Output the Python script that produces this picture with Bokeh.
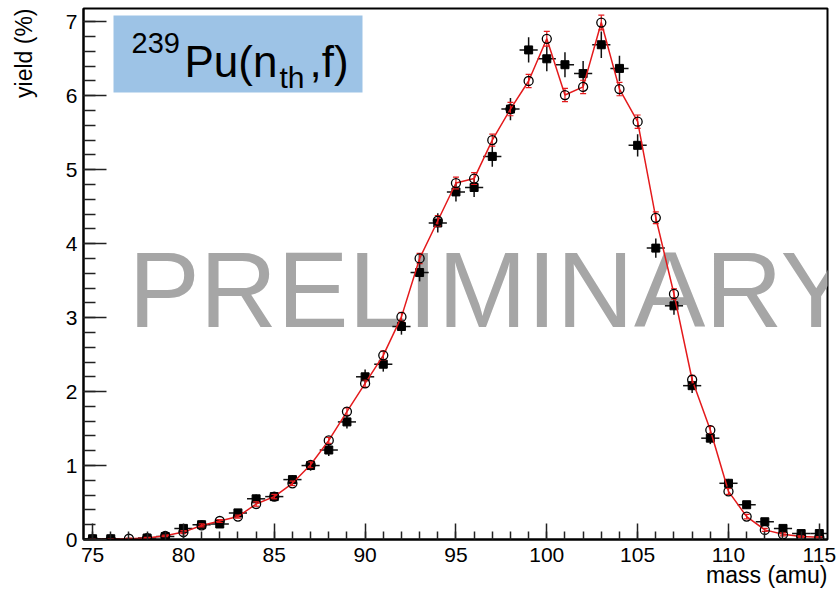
from bokeh.plotting import figure
from bokeh.models import Label, BoxAnnotation, SingleIntervalTicker
from bokeh.embed import file_html
from bokeh.resources import INLINE

# ---------------- data ----------------
mass_calc = list(range(75, 116))
yield_calc = [0.00, 0.00, 0.01, 0.02, 0.05, 0.10, 0.19, 0.25, 0.31, 0.48,
              0.58, 0.76, 1.01, 1.34, 1.73, 2.11, 2.49, 3.01, 3.80, 4.31,
              4.82, 4.88, 5.40, 5.82, 6.20, 6.77, 6.01, 6.12, 6.99, 6.09,
              5.65, 4.35, 3.32, 2.16, 1.48, 0.65, 0.31, 0.13, 0.07, 0.04, 0.03]
err_calc = [0.01, 0.01, 0.01, 0.01, 0.01, 0.02, 0.02, 0.02, 0.02, 0.03,
            0.03, 0.03, 0.04, 0.04, 0.05, 0.05, 0.06, 0.06, 0.07, 0.07,
            0.08, 0.08, 0.08, 0.09, 0.09, 0.10, 0.09, 0.09, 0.10, 0.09,
            0.09, 0.08, 0.07, 0.06, 0.05, 0.04, 0.03, 0.02, 0.02, 0.01, 0.01]

mass_meas = [75, 76, 78, 79, 80, 81, 82, 83, 84, 85, 86, 87, 88, 89, 90, 91,
             92, 93, 94, 95, 96, 97, 98, 99, 100, 101, 102, 103, 104, 105,
             106, 107, 108, 109, 110, 111, 112, 113, 114, 115]
yield_meas = [0.01, 0.01, 0.02, 0.04, 0.15, 0.20, 0.21, 0.36, 0.55, 0.58,
              0.81, 1.00, 1.21, 1.59, 2.20, 2.37, 2.88, 3.61, 4.28, 4.70,
              4.76, 5.18, 5.82, 6.62, 6.50, 6.42, 6.30, 6.69, 6.37, 5.33,
              3.94, 3.16, 2.08, 1.37, 0.76, 0.47, 0.24, 0.15, 0.08, 0.08]
err_meas = [0.02, 0.02, 0.02, 0.03, 0.05, 0.04, 0.04, 0.05, 0.06, 0.06,
            0.06, 0.07, 0.08, 0.09, 0.10, 0.10, 0.11, 0.12, 0.13, 0.13,
            0.13, 0.14, 0.15, 0.17, 0.17, 0.17, 0.17, 0.18, 0.17, 0.15,
            0.13, 0.12, 0.10, 0.08, 0.06, 0.05, 0.04, 0.03, 0.03, 0.03]
bin_half = 0.5

x_ticks_major = 5
y_ticks_major = 1

x_title = "mass (amu)"
y_title = "yield (%)"

# ---------------- figure ----------------
p = figure(width=840, height=590, x_range=(74.5, 115.45), y_range=(0, 7.18),
           output_backend="svg", toolbar_location=None,
           min_border_left=83, min_border_right=13, min_border_top=8,
           min_border_bottom=51)
p.background_fill_color = "white"
p.border_fill_color = "white"
p.outline_line_color = "black"
p.outline_line_width = 2
p.xgrid.visible = False
p.ygrid.visible = False

p.xaxis.ticker = SingleIntervalTicker(interval=x_ticks_major, num_minor_ticks=5)
p.yaxis.ticker = SingleIntervalTicker(interval=y_ticks_major, num_minor_ticks=5)
for ax in (p.xaxis[0], p.yaxis[0]):
    ax.axis_line_width = 2
    ax.axis_line_color = "black"
    ax.major_tick_out = 0
    ax.minor_tick_out = 0
    ax.major_tick_line_width = 1.5
    ax.minor_tick_line_width = 1.5
    ax.major_tick_line_color = "#222222"
    ax.minor_tick_line_color = "#222222"
    ax.major_label_text_font = "Liberation Sans"
    ax.major_label_text_font_size = "21px"
    ax.major_label_text_color = "black"
    ax.axis_label_text_font = "Liberation Sans"
    ax.axis_label_text_font_size = "23px"
    ax.axis_label_text_font_style = "normal"
    ax.axis_label_text_color = "black"
    ax.axis_label_align = "end"
p.xaxis.major_tick_in = 16
p.xaxis.minor_tick_in = 8
p.yaxis.major_tick_in = 23
p.yaxis.minor_tick_in = 12
p.xaxis.major_label_standoff = 8
p.yaxis.major_label_standoff = 6
# the end-aligned title is centred on the axis end; trailing no-break spaces
# shift the visible words so that they finish at the end of the axis (ROOT style)
p.xaxis.axis_label = x_title + "\u00a0" * 19
p.yaxis.axis_label = y_title + "\u00a0" * 14
p.xaxis.axis_label_standoff = -3
p.yaxis.axis_label_standoff = 26

# screen-unit labels below are placed relative to the plot frame (left=83, bottom=539)
# watermark (beneath the data)
p.add_layout(Label(x=45, y=250, x_units="screen", y_units="screen",
                   text="PRELIMINARY", text_font="Liberation Sans",
                   text_font_size="107px", text_color="#a6a6a6",
                   text_baseline="alphabetic", level="underlay"))

# measured: squares with cross error bars
xm0 = [m - bin_half for m in mass_meas]
xm1 = [m + bin_half for m in mass_meas]
ylo = [y - e for y, e in zip(yield_meas, err_meas)]
yhi = [y + e for y, e in zip(yield_meas, err_meas)]
p.segment(x0=xm0, y0=yield_meas, x1=xm1, y1=yield_meas, line_color="#111111", line_width=1.5)
p.segment(x0=mass_meas, y0=ylo, x1=mass_meas, y1=yhi, line_color="#111111", line_width=1.5)
p.scatter(mass_meas, yield_meas, marker="square", size=8, fill_color="black", line_color="black")

# calculation: red line, red error bars, open circles
clo = [y - e for y, e in zip(yield_calc, err_calc)]
chi = [y + e for y, e in zip(yield_calc, err_calc)]
p.line(mass_calc, yield_calc, line_color="#e41a1c", line_width=1.5)
p.segment(x0=mass_calc, y0=clo, x1=mass_calc, y1=chi, line_color="#e41a1c", line_width=1.2)
p.scatter(mass_calc, clo, marker="dash", size=6, line_color="#e41a1c", line_width=1.2)
p.scatter(mass_calc, chi, marker="dash", size=6, line_color="#e41a1c", line_width=1.2)
p.scatter(mass_calc, yield_calc, marker="circle", size=9, fill_color=None,
          line_color="black", line_width=1.3)

# reaction label box
p.add_layout(BoxAnnotation(left=30, right=279, top=524, bottom=447,
                           left_units="screen", right_units="screen",
                           top_units="screen", bottom_units="screen",
                           fill_color="#9dc3e6", fill_alpha=1.0, line_color=None,
                           level="overlay"))
label_parts = [("239", 48, 497, "29px"), ("Pu(n", 101, 478, "44px"),
               ("th", 196, 462, "30px"), (",f)", 226, 478, "44px")]
for txt, sx, sy, fs in label_parts:
    p.add_layout(Label(x=sx, y=sy, x_units="screen", y_units="screen",
                       text=txt, text_font="Liberation Sans", text_font_size=fs,
                       text_color="black", text_baseline="alphabetic", level="overlay"))

open("out.html", "w").write(file_html(p, INLINE))
